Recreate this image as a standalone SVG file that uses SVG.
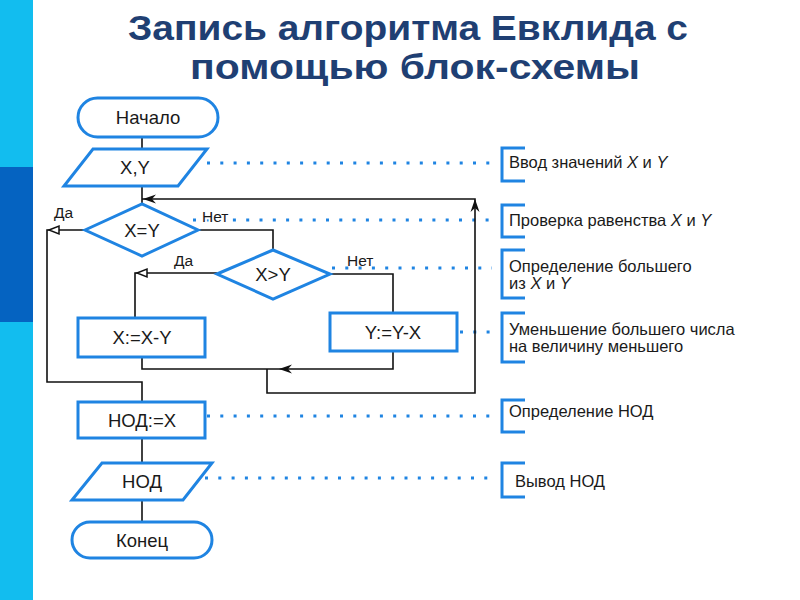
<svg xmlns="http://www.w3.org/2000/svg" xmlns:xlink="http://www.w3.org/1999/xlink" width="800" height="600" viewBox="0 0 800 600">
<style>
.node{fill:#fff;stroke:#1F84E2;stroke-width:3;stroke-linejoin:miter}
.nt{font-family:"Liberation Sans",Arial,sans-serif;font-size:18.5px;fill:#1a1a1a;text-anchor:middle}
.con{fill:none;stroke:#111;stroke-width:1.6}
.lbl{font-family:"Liberation Sans",Arial,sans-serif;font-size:15.5px;fill:#1a1a1a}
.dot{fill:none;stroke:#1F84E2;stroke-width:3;stroke-dasharray:3 10.3}
.br{fill:none;stroke:#1F84E2;stroke-width:3}
.ann{font-family:"Liberation Sans",Arial,sans-serif;font-size:16.5px;fill:#1a1a1a}
.title{font-family:"Liberation Sans",Arial,sans-serif;font-size:35px;font-weight:bold;fill:#1F3F73;text-anchor:middle}
</style>
<defs>
<path id="ah" d="M0,0 L13,-4.5 L9,0 L13,4.5 Z" fill="#111"/>
<path id="ht" d="M0,0 L10,-4 L10,4 Z" fill="#fff" stroke="#111" stroke-width="1.5"/>
</defs>
<rect x="0" y="0" width="800" height="600" fill="#fff"/>
<rect x="0" y="0" width="33" height="600" fill="#12BDEF"/>
<rect x="0" y="167" width="33" height="155" fill="#0563C1"/>

<text class="title" x="408" y="40" textLength="560" lengthAdjust="spacingAndGlyphs">Запись алгоритма Евклида с</text>
<text class="title" x="415" y="79" textLength="450" lengthAdjust="spacingAndGlyphs">помощью блок-схемы</text>

<g id="annotations">
<path class="dot" d="M207,163 H492"/>
<path class="dot" d="M193,220 H492"/>
<path class="dot" d="M332,268 H492"/>
<path class="dot" d="M460,332 H492"/>
<path class="dot" d="M207,416 H492"/>
<path class="dot" d="M205,478 H492"/>
<path class="br" d="M525,148 H502 V181 H525"/>
<path class="br" d="M525,205 H502 V237 H525"/>
<path class="br" d="M525,250 H502 V298 H525"/>
<path class="br" d="M525,313 H502 V362 H525"/>
<path class="br" d="M525,400 H502 V432 H525"/>
<path class="br" d="M525,463 H502 V497 H525"/>
<text class="ann" x="509" y="168">Ввод значений <tspan font-style="italic">X</tspan> и <tspan font-style="italic">Y</tspan></text>
<text class="ann" x="509" y="226">Проверка равенства <tspan font-style="italic">X</tspan> и <tspan font-style="italic">Y</tspan></text>
<text class="ann" x="509" y="272">Определение большего</text>
<text class="ann" x="509" y="289">из <tspan font-style="italic">X</tspan> и <tspan font-style="italic">Y</tspan></text>
<text class="ann" x="509" y="335">Уменьшение большего числа</text>
<text class="ann" x="509" y="352">на величину меньшего</text>
<text class="ann" x="509" y="417">Определение НОД</text>
<text class="ann" x="515" y="487">Вывод НОД</text>
</g>

<g id="connectors">
<path class="con" d="M142,137 V149"/>
<path class="con" d="M142,186 V205"/>
<path class="con" d="M85,230 H47 V382 H142 V402"/>
<path class="con" d="M198,230 H273 V250"/>
<path class="con" d="M217,273 H135 V318"/>
<path class="con" d="M330,274 H393 V313"/>
<path class="con" d="M142,357 V369 H393 V351"/>
<path class="con" d="M267,369 V393 H475 V199 H142"/>
<path class="con" d="M142,438 V463"/>
<path class="con" d="M142,500 V522"/>
<use xlink:href="#ah" transform="translate(143,199)"/>
<use xlink:href="#ah" transform="translate(279,369)"/>
<use xlink:href="#ah" transform="translate(475,199) rotate(90)"/>
<use xlink:href="#ht" transform="translate(49,230)"/>
<use xlink:href="#ht" transform="translate(137,273)"/>
<text class="lbl" x="54" y="218">Да</text>
<text class="lbl" x="202" y="222" stroke="#fff" stroke-width="4" paint-order="stroke">Нет</text>
<text class="lbl" x="174" y="266">Да</text>
<text class="lbl" x="347" y="266">Нет</text>
</g>

<g id="start"><rect class="node" x="78" y="98" width="140" height="39" rx="19.5"/><text class="nt" x="148" y="124">Начало</text></g>
<g id="input"><polygon class="node" points="93,149 207,149 178,186 64,186"/><text class="nt" x="135" y="174">X,Y</text></g>
<g id="cond1"><polygon class="node" points="85,230 142,204 198,230 142,256"/><text class="nt" x="142" y="237">X=Y</text></g>
<g id="cond2"><polygon class="node" points="217,274 273,250 330,274 273,299"/><text class="nt" x="273" y="281">X&gt;Y</text></g>
<g id="subx"><rect class="node" x="78" y="318" width="127" height="39"/><text class="nt" x="142" y="344">X:=X-Y</text></g>
<g id="suby"><rect class="node" x="330" y="313" width="127" height="38"/><text class="nt" x="393" y="339">Y:=Y-X</text></g>
<g id="gcd"><rect class="node" x="78" y="402" width="127" height="36"/><text class="nt" x="142" y="427">НОД:=X</text></g>
<g id="output"><polygon class="node" points="102,463 212,463 183,500 72,500"/><text class="nt" x="142" y="488">НОД</text></g>
<g id="end"><rect class="node" x="72" y="522" width="140" height="36" rx="18"/><text class="nt" x="142" y="547">Конец</text></g>
</svg>
